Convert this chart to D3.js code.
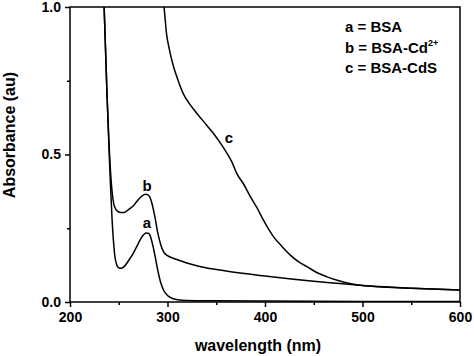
<!DOCTYPE html>
<html>
<head>
<meta charset="utf-8">
<script src="https://cdn.jsdelivr.net/npm/d3@7"></script>
<style>
  html, body { margin: 0; padding: 0; background: #fff; }
  svg { display: block; font-family: "Liberation Sans", Arial, sans-serif; }
</style>
</head>
<body>
<svg id="chart" width="474" height="356"></svg>
<script>
// ---- data ----
const wlA = [233, 235, 236.5, 238, 240, 241.5, 243, 244.5, 246, 248, 250, 252, 255, 260, 265, 270, 274, 278, 281, 284, 287, 290, 293, 296, 300, 305, 310, 320, 350, 400, 500, 600];
const absA = [1.15, 1.0, 0.85, 0.7, 0.52, 0.40, 0.29, 0.21, 0.155, 0.125, 0.116, 0.114, 0.118, 0.14, 0.166, 0.198, 0.222, 0.234, 0.232, 0.205, 0.16, 0.108, 0.066, 0.04, 0.022, 0.012, 0.008, 0.005, 0.004, 0.003, 0.002, 0.002];

const wlB = [233, 235, 236.5, 238, 240, 242, 244, 246, 249, 252, 255, 258, 262, 266, 270, 274, 278, 281, 284, 287, 290, 293, 296, 300, 305, 313, 320, 333, 360, 400, 450, 500, 550, 600];
const absB = [1.15, 1.0, 0.85, 0.7, 0.54, 0.42, 0.35, 0.32, 0.307, 0.303, 0.303, 0.308, 0.318, 0.33, 0.347, 0.36, 0.365, 0.36, 0.335, 0.29, 0.235, 0.195, 0.17, 0.157, 0.149, 0.14, 0.132, 0.12, 0.105, 0.088, 0.07, 0.056, 0.047, 0.041];

const wlC = [295, 296.4, 299, 302, 306, 311, 316, 323, 330, 340, 347, 355, 361, 366, 371, 378, 385, 392, 398, 404, 409, 417, 426, 435, 443, 453, 463, 475, 487, 500, 550, 600];
const absC = [1.03, 1.0, 0.91, 0.855, 0.80, 0.75, 0.707, 0.67, 0.64, 0.60, 0.572, 0.535, 0.504, 0.475, 0.436, 0.40, 0.357, 0.318, 0.28, 0.245, 0.22, 0.19, 0.159, 0.135, 0.12, 0.10, 0.086, 0.073, 0.063, 0.056, 0.047, 0.041];

const xMajorTicks = [200, 300, 400, 500, 600];
const xMinorTicks = [250, 350, 450, 550];
const yMajorTicks = [0.0, 0.5, 1.0];
const yMinorTicks = [0.25, 0.75];

const curveLabels = ["a", "b", "c"];
const labelAt = [[279, 0.25], [279, 0.375], [363, 0.54]];
const legendLines = [["a = BSA", ""], ["b = BSA-Cd", "2+"], ["c = BSA-CdS", ""]];

const xTitle = "wavelength (nm)";
const yTitle = "Absorbance (au)";

// ---- layout ----
const L = 70, R = 460, T = 7, B = 302;
const svg = d3.select("#chart");
const x = d3.scaleLinear().domain([200, 600]).range([L, R]);
const y = d3.scaleLinear().domain([0, 1]).range([B, T]);

svg.append("defs").append("clipPath").attr("id", "clip")
  .append("rect").attr("x", L).attr("y", T).attr("width", R - L).attr("height", B - T);

const line = d3.line().x(d => x(d[0])).y(d => y(d[1])).curve(d3.curveMonotoneX);
const series = [d3.zip(wlA, absA), d3.zip(wlB, absB), d3.zip(wlC, absC)];
svg.append("g").attr("clip-path", "url(#clip)")
  .selectAll("path").data(series).join("path")
  .attr("d", line).attr("fill", "none").attr("stroke", "#000").attr("stroke-width", 1.5);

// frame
svg.append("rect").attr("x", L).attr("y", T).attr("width", R - L).attr("height", B - T)
  .attr("fill", "none").attr("stroke", "#000").attr("stroke-width", 1.5);

// x axis
const xAxis = d3.axisBottom(x).tickValues(xMajorTicks).tickSize(5).tickPadding(5).tickFormat(d3.format("d"));
const gx = svg.append("g").attr("transform", `translate(0,${B})`).call(xAxis);
gx.select(".domain").remove();
gx.selectAll(".tick line").attr("stroke-width", 1.5);
gx.selectAll("text").attr("font-size", 14).attr("font-weight", "bold").attr("fill", "#000")
  .attr("font-family", "Liberation Sans, Arial, sans-serif");
const gxm = svg.append("g").attr("transform", `translate(0,${B})`)
  .call(d3.axisBottom(x).tickValues(xMinorTicks).tickSize(3).tickFormat(""));
gxm.select(".domain").remove();
gxm.selectAll(".tick line").attr("stroke-width", 1.5);

// y axis
const yAxis = d3.axisLeft(y).tickValues(yMajorTicks).tickSize(5).tickPadding(4).tickFormat(d3.format(".1f"));
const gy = svg.append("g").attr("transform", `translate(${L},0)`).call(yAxis);
gy.select(".domain").remove();
gy.selectAll(".tick line").attr("stroke-width", 1.5);
gy.selectAll("text").attr("font-size", 14).attr("font-weight", "bold").attr("fill", "#000")
  .attr("font-family", "Liberation Sans, Arial, sans-serif");
const gym = svg.append("g").attr("transform", `translate(${L},0)`)
  .call(d3.axisLeft(y).tickValues(yMinorTicks).tickSize(3).tickFormat(""));
gym.select(".domain").remove();
gym.selectAll(".tick line").attr("stroke-width", 1.5);

// titles
svg.append("text").attr("x", 258).attr("y", 351).attr("text-anchor", "middle")
  .attr("font-size", 16).attr("font-weight", "bold").text(xTitle);
svg.append("text").attr("transform", "translate(15,135) rotate(-90)").attr("text-anchor", "middle")
  .attr("font-size", 16).attr("font-weight", "bold").text(yTitle);

// curve labels
svg.selectAll(".clabel").data(curveLabels).join("text").attr("class", "clabel")
  .attr("x", (d, i) => x(labelAt[i][0]))
  .attr("y", (d, i) => y(labelAt[i][1]))
  .attr("text-anchor", "middle").attr("font-size", 15).attr("font-weight", "bold").text(d => d);

// legend
const lg = svg.append("g");
legendLines.forEach((l, i) => {
  const t = lg.append("text").attr("x", 345).attr("y", 32 + i * 20.5)
    .attr("font-size", 15).attr("font-weight", "bold");
  t.append("tspan").text(l[0]);
  if (l[1]) t.append("tspan").attr("dy", -7).attr("font-size", 9).text(l[1]);
});
</script>
</body>
</html>
